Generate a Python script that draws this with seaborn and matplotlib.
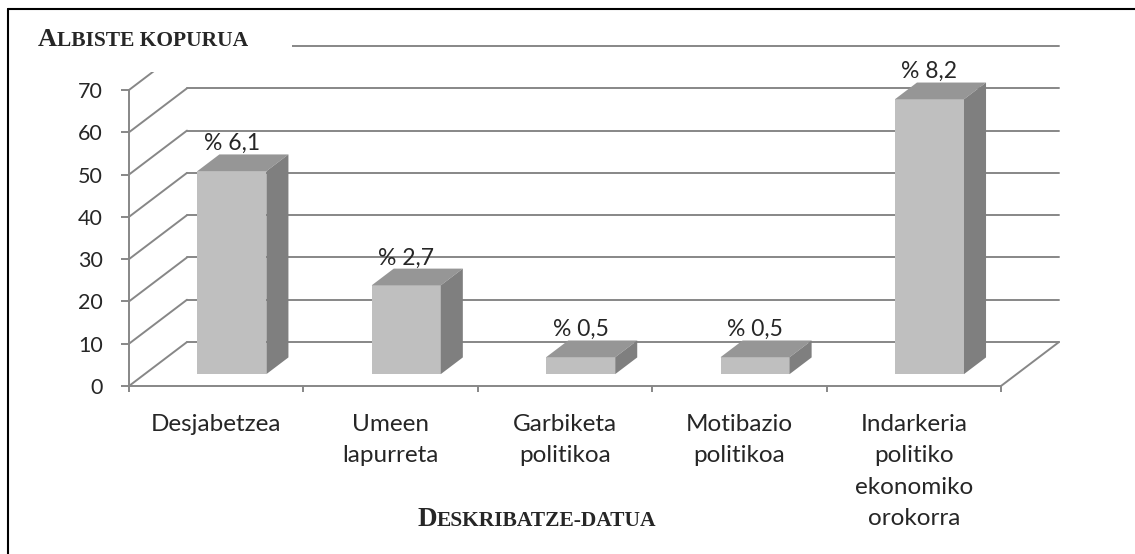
import numpy as np
import pandas as pd
import matplotlib
matplotlib.use("Agg")
import matplotlib.pyplot as plt
import seaborn as sns
from matplotlib.patches import Polygon, Rectangle
from matplotlib.lines import Line2D

# ---------------- data ----------------
categories = ["Desjabetzea", "Umeen\nlapurreta", "Garbiketa\npolitikoa",
              "Motibazio\npolitikoa", "Indarkeria\npolitiko\nekonomiko\norokorra"]
counts = [48, 21, 4, 4, 65]
percent_labels = ["% 6,1", "% 2,7", "% 0,5", "% 0,5", "% 8,2"]
y_ticks = [0, 10, 20, 30, 40, 50, 60, 70]

# ---------------- 3d look ----------------
DEPTH_X = 0.3326      # back wall shift, category units
DEPTH_Y = 10.4        # back wall shift, value units
BAR_W = 0.396
D0, D1 = 0.27, 0.65   # bar front / back as fraction of depth

FRONT, TOP, SIDE = "#bfbfbf", "#969696", "#7f7f7f"
GRID = "#878787"
LW = 1.4

sns.set_style("white")
plt.rcParams["font.family"] = ["Lato", "DejaVu Sans"]

W, H = 1135, 554
fig = plt.figure(figsize=(W / 100, H / 100), dpi=100)
ax = fig.add_axes([129 / W, 1 - 386 / H, 930 / W, 340 / H])

df = pd.DataFrame({"cat": categories, "n": counts})
sns.barplot(data=df, x="cat", y="n", width=BAR_W, color=FRONT, saturation=1,
            linewidth=0, ax=ax, zorder=3)

# shift the front faces back into the floor and add top / side faces
ddx = (D1 - D0) * DEPTH_X
ddy = (D1 - D0) * DEPTH_Y
for p, lab in zip(ax.patches, percent_labels):
    x0 = p.get_x() + D0 * DEPTH_X
    y0 = D0 * DEPTH_Y
    w, h = p.get_width(), p.get_height()
    p.set_x(x0)
    p.set_y(y0)
    top = [(x0, y0 + h), (x0 + w, y0 + h), (x0 + w + ddx, y0 + h + ddy), (x0 + ddx, y0 + h + ddy)]
    side = [(x0 + w, y0), (x0 + w + ddx, y0 + ddy), (x0 + w + ddx, y0 + h + ddy), (x0 + w, y0 + h)]
    ax.add_patch(Polygon(top, closed=True, facecolor=TOP, edgecolor="none", zorder=3))
    ax.add_patch(Polygon(side, closed=True, facecolor=SIDE, edgecolor="none", zorder=3))
    ax.text(x0 + w / 2, y0 + h + ddy + 1.0, lab, ha="center", va="baseline",
            fontsize=16.5, zorder=4)

# walls: left wall diagonals, back wall gridlines, right floor edge
left, right = -0.5, len(categories) - 0.5
for v in y_ticks:
    ax.plot([left, left + DEPTH_X], [v, v + DEPTH_Y], color=GRID, lw=LW, zorder=1, clip_on=False)
    ax.plot([left + DEPTH_X, right + DEPTH_X], [v + DEPTH_Y, v + DEPTH_Y], color=GRID, lw=LW,
            zorder=1, clip_on=False)
ax.plot([right, right + DEPTH_X], [0, DEPTH_Y], color=GRID, lw=LW, zorder=1, clip_on=False)

ax.set_xlim(left, right + DEPTH_X)
ax.set_ylim(0, y_ticks[-1] + DEPTH_Y)
for s in ["top", "right"]:
    ax.spines[s].set_visible(False)
ax.spines["left"].set_bounds(0, y_ticks[-1])
ax.spines["bottom"].set_bounds(left, right)
for s in ["left", "bottom"]:
    ax.spines[s].set_color(GRID)
    ax.spines[s].set_linewidth(LW)
    ax.spines[s].set_zorder(2)

ax.set_yticks(y_ticks)
ax.tick_params(axis="y", left=True, length=5.8, width=LW, color=GRID, pad=13, labelsize=15.5)
ax.set_xticks(range(len(categories)), categories)
ax.set_xticks(np.arange(left, right + 0.01, 1), minor=True)
ax.tick_params(axis="x", which="major", bottom=True, length=0, pad=20, labelsize=17.5)
ax.tick_params(axis="x", which="minor", bottom=True, length=4.5, width=LW, color=GRID)
for t in ax.get_xticklabels():
    t.set_linespacing(1.62)
    t.set_multialignment("center")
ax.set_xlabel("")
ax.set_ylabel("")

# ---------------- small-caps titles ----------------
renderer = fig.canvas.get_renderer()


def small_caps(x_px, base_px, big, rest, big_size, small_size, ha="left"):
    kw = dict(family="Liberation Serif", weight="bold", va="baseline", zorder=7)
    t1 = fig.text(0, 1 - base_px / H, big, fontsize=big_size, **kw)
    t2 = fig.text(0, 1 - base_px / H, rest, fontsize=small_size, **kw)
    w1 = t1.get_window_extent(renderer).width
    w2 = t2.get_window_extent(renderer).width
    start = x_px - (w1 + w2) / 2 if ha == "center" else x_px
    t1.set_x(start / W)
    t2.set_x((start + w1) / W)


# white box behind the y title hides the top of the wall
fig.add_artist(Rectangle((30 / W, 1 - 72 / H), 262 / W, 58 / H, transform=fig.transFigure,
                         facecolor="white", edgecolor="none", zorder=6))
small_caps(38, 46, "A", "LBISTE KOPURUA", 19, 15.5)
small_caps(537, 526, "D", "ESKRIBATZE-DATUA", 19.5, 15.5, ha="center")

# frame of the chart area
fig.add_artist(Line2D([7.5 / W, 7.5 / W], [0, 1 - 9 / H], transform=fig.transFigure,
                      color="black", lw=1.5))
fig.add_artist(Line2D([7.5 / W, 1], [1 - 9 / H, 1 - 9 / H], transform=fig.transFigure,
                      color="black", lw=1.5))

fig.savefig("out.png", dpi=100)
